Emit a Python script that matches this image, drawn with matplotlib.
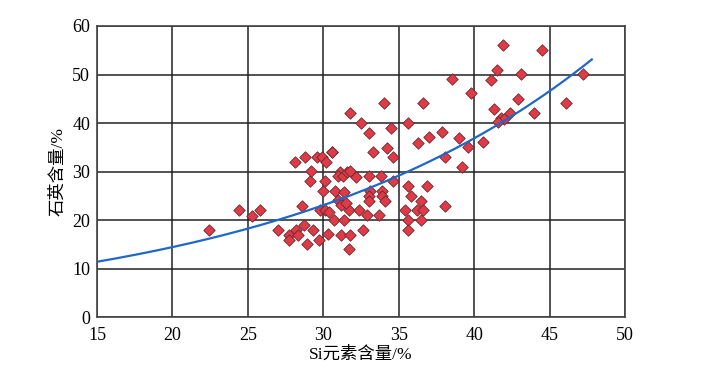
import numpy as np
import matplotlib.pyplot as plt

# Si content (%) vs quartz content (%)
si = [22.4, 24.4, 25.3, 25.8, 27.0, 27.7, 27.7, 28.2, 28.3, 28.7,
      28.9, 29.3, 29.7, 30.3, 28.6, 29.8, 30.1, 30.4, 30.0, 30.8,
      30.1, 29.1, 28.1, 28.8, 29.6, 29.9, 30.6, 30.2, 29.2, 31.1,
      31.0, 31.3, 31.6, 31.0, 31.2, 30.7, 31.4, 31.2, 31.8, 32.6,
      31.7, 31.7, 32.4, 32.9, 33.7, 31.4, 31.5, 33.1, 33.0, 33.0,
      33.9, 33.9, 34.1, 34.6, 32.2, 33.0, 33.8, 31.8, 30.6, 33.3,
      34.2, 34.6, 32.5, 33.0, 31.8, 34.0, 34.5, 35.6, 36.3, 37.0,
      37.9, 39.0, 39.6, 40.6, 38.1, 39.2, 36.6, 38.5, 39.8, 35.6,
      36.9, 35.8, 36.5, 38.1, 35.4, 36.2, 36.6, 35.6, 36.5, 35.6,
      41.9, 44.5, 41.5, 41.1, 43.1, 47.2, 42.9, 41.3, 42.4, 44.0,
      46.1, 41.8, 42.0, 41.6]
quartz = [18.0, 22.0, 20.9, 22.0, 18.0, 17.0, 15.9, 18.0, 17.0, 19.0,
          15.0, 18.0, 16.0, 17.1, 23.0, 22.0, 22.0, 21.6, 26.1, 26.1,
          28.0, 28.1, 32.0, 33.1, 33.1, 33.1, 34.0, 32.0, 30.1, 30.0,
          29.0, 29.0, 30.0, 24.1, 23.2, 20.0, 20.0, 17.0, 17.0, 18.0,
          14.0, 22.0, 22.0, 21.0, 21.0, 25.9, 23.5, 26.1, 25.0, 24.0,
          26.1, 25.0, 24.0, 28.1, 28.9, 29.0, 29.0, 30.1, 34.1, 34.1,
          34.9, 33.0, 40.1, 38.0, 42.0, 44.1, 39.0, 40.1, 36.0, 37.1,
          38.2, 37.0, 35.0, 36.1, 33.0, 31.0, 44.2, 49.0, 46.1, 27.0,
          27.0, 25.0, 24.0, 23.0, 22.0, 22.0, 22.0, 20.0, 20.0, 17.9,
          56.1, 55.0, 51.0, 48.9, 50.1, 50.1, 45.0, 43.0, 42.1, 42.1,
          44.2, 41.0, 40.9, 40.3]

# exponential trend y = a * exp(b * x), parameters
fit_a, fit_b = 5.67, 0.0468
fit_x = np.linspace(15, 47.8, 200)
fit_y = fit_a * np.exp(fit_b * fit_x)

font = ['Liberation Serif', 'Noto Sans CJK SC']

fig = plt.figure(figsize=(7.07, 3.71), dpi=100)
ax = fig.add_axes([0.1372, 0.1447, 0.7468, 0.7853])

ax.scatter(si, quartz, marker='D', s=34, facecolor='#e03a48',
           edgecolor='#6a2a2a', linewidth=0.6, zorder=3)
ax.plot(fit_x, fit_y, color='#1f68c8', linewidth=1.6, zorder=4)

ax.set_xlim(15, 50)
ax.set_ylim(0, 60)
ax.set_xticks(range(15, 51, 5))
ax.set_yticks(range(0, 61, 10))
ax.grid(True, color='#222222', linewidth=1.1)
ax.set_axisbelow(True)
for s in ax.spines.values():
    s.set_color('#444444')
    s.set_linewidth(1.2)
ax.tick_params(length=0, labelsize=13)
ax.tick_params(axis='x', pad=7)
ax.tick_params(axis='y', pad=5)
for lab in ax.get_xticklabels() + ax.get_yticklabels():
    lab.set_family(font)

ax.set_xlabel('Si元素含量/%', family=font, fontsize=12.5, labelpad=2)
ax.set_ylabel('石英含量/%', family=font, fontsize=12.5, labelpad=4)

fig.savefig('out.png', dpi=100)
